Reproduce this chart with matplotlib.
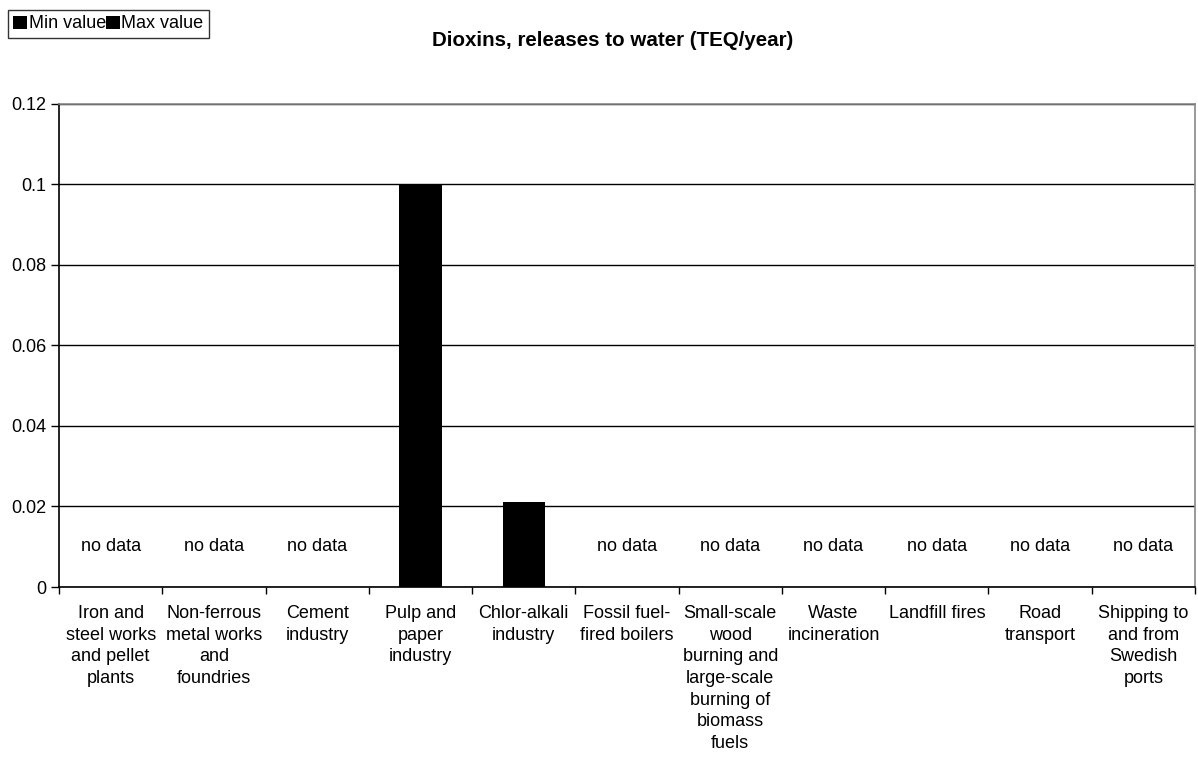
import numpy as np
import matplotlib
matplotlib.use("Agg")
from matplotlib import pyplot

pyplot.rcParams['font.family'] = ['Liberation Sans', 'DejaVu Sans']

categories = [
    "Iron and\nsteel works\nand pellet\nplants",
    "Non-ferrous\nmetal works\nand\nfoundries",
    "Cement\nindustry",
    "Pulp and\npaper\nindustry",
    "Chlor-alkali\nindustry",
    "Fossil fuel-\nfired boilers",
    "Small-scale\nwood\nburning and\nlarge-scale\nburning of\nbiomass\nfuels",
    "Waste\nincineration",
    "Landfill fires",
    "Road\ntransport",
    "Shipping to\nand from\nSwedish\nports",
]
nan = np.nan
min_values = [nan, nan, nan, 0.1, 0.021, nan, nan, nan, nan, nan, nan]
max_values = [nan, nan, nan, 0.1, 0.021, nan, nan, nan, nan, nan, nan]
y_ticks = [0, 0.02, 0.04, 0.06, 0.08, 0.1, 0.12]
y_ticklabels = ["0", "0.02", "0.04", "0.06", "0.08", "0.1", "0.12"]

fs = 13
fig = pyplot.figure(figsize=(11.98, 7.58), dpi=100)
ax = fig.add_axes([59 / 1198, 1 - 587 / 758, 1136 / 1198, 483.5 / 758])

x = np.arange(len(categories))
mins = np.array(min_values)
maxs = np.array(max_values)
has = ~np.isnan(maxs)
ax.bar(x[has], mins[has], width=0.41, color="black", label="Min value", zorder=3)
ax.bar(x[has], maxs[has], width=0.41, color="black", label="Max value", zorder=3)

for xi, v in zip(x, maxs):
    if np.isnan(v):
        ax.text(xi, 0.01, "no data", ha="center", va="center", fontsize=fs)

ax.set_xlim(-0.5, len(categories) - 0.5)
ax.set_ylim(0, 0.12)
ax.set_yticks(y_ticks)
ax.set_yticklabels(y_ticklabels, fontsize=fs)
ax.tick_params(axis="y", length=6, width=1, pad=3, direction="out")

# category boundaries get the tick marks, labels sit at the centres
ax.set_xticks(np.arange(-0.5, len(categories) + 0.5, 1))
ax.set_xticklabels([])
ax.tick_params(axis="x", which="major", length=5, width=1, direction="out")
ax.set_xticks(x, minor=True)
ax.set_xticklabels(categories, minor=True, fontsize=fs, va="top", ha="center",
                   linespacing=1.36)
ax.tick_params(axis="x", which="minor", length=0, pad=13)

ax.yaxis.grid(True, color="black", linewidth=1, zorder=0)
ax.set_axisbelow(True)
ax.spines["left"].set_color("black")
ax.spines["bottom"].set_color("black")
ax.spines["top"].set_color("#888888")
ax.spines["right"].set_color("#888888")
for s in ax.spines.values():
    s.set_linewidth(1.2)

fig.text(613 / 1198, 1 - 41 / 758, "Dioxins, releases to water (TEQ/year)",
         ha="center", va="center", fontsize=14.8, fontweight="bold")

# legend box in the top left corner
handles, labels = ax.get_legend_handles_labels()
leg = fig.legend(handles, labels, loc="upper left", bbox_to_anchor=(8 / 1198, 1 - 10 / 758),
                 ncol=2, fontsize=fs, handlelength=0.75, handleheight=0.75,
                 handletextpad=0.1, columnspacing=0.0, borderpad=0.3,
                 borderaxespad=0, frameon=True, fancybox=False)
leg.get_frame().set_edgecolor("black")
leg.get_frame().set_linewidth(1)

fig.savefig("out.png", dpi=100)
